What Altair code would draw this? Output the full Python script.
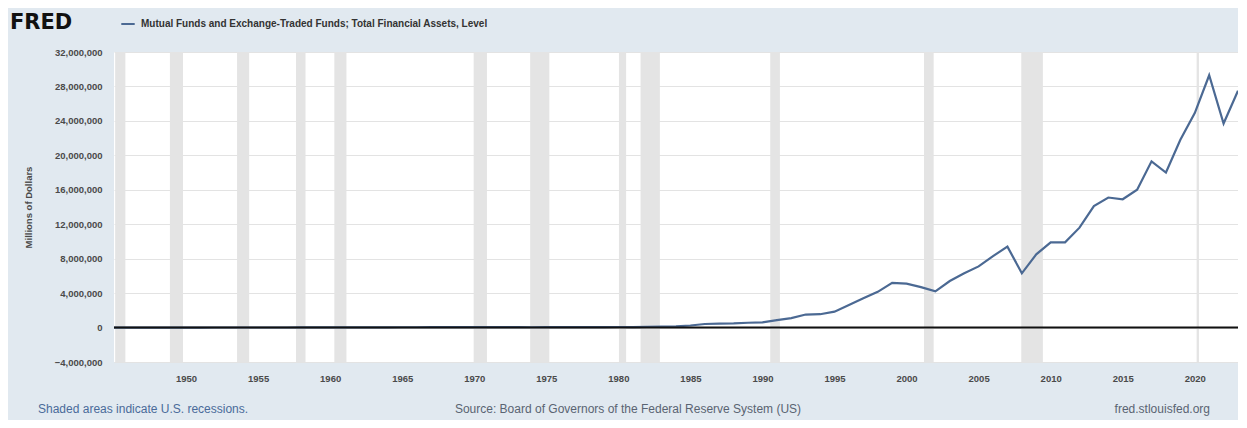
import altair as alt
import pandas as pd

# ---------------- data ----------------
series_name = "Mutual Funds and Exchange-Traded Funds; Total Financial Assets, Level"
years = list(range(1945, 2024))
assets = [  # millions of dollars
    1300, 1300, 1400, 1500, 1900, 2500, 3000, 3900, 4100, 6100,
    7800, 9000, 8700, 13200, 15800, 17000, 22800, 21300, 25200, 29100,
    35200, 34800, 44700, 52700, 48300, 47600, 55000, 59800, 46500, 34100,
    43000, 47600, 45000, 45000, 49000, 62000, 60000, 77000, 113000, 137000,
    240000, 414000, 460000, 479000, 556000, 608000, 853000, 1100000, 1510000, 1550000,
    1850000, 2620000, 3400000, 4150000, 5200000, 5100000, 4700000, 4200000, 5400000, 6300000,
    7100000, 8300000, 9400000, 6300000, 8500000, 9900000, 9900000, 11600000, 14100000, 15100000,
    14900000, 16000000, 19300000, 18000000, 21800000, 24900000, 29300000, 23700000, 27500000,
]
rec_start = [1945.08, 1948.88, 1953.54, 1957.63, 1960.29, 1969.96, 1973.88,
             1980.04, 1981.54, 1990.54, 2001.21, 2007.96, 2020.13]
rec_end = [1945.79, 1949.79, 1954.38, 1958.29, 1961.13, 1970.88, 1975.21,
           1980.54, 1982.88, 1991.21, 2001.88, 2009.46, 2020.29]
y_ticks = [-4000000, 0, 4000000, 8000000, 12000000, 16000000,
           20000000, 24000000, 28000000, 32000000]
x_ticks = list(range(1950, 2021, 5))
y_title = "Millions of Dollars"
logo_text = ["FRED"]
footer_left = ["Shaded areas indicate U.S. recessions."]
footer_mid = ["Source: Board of Governors of the Federal Reserve System (US)"]
footer_right = ["fred.stlouisfed.org"]

df = pd.DataFrame({"year": years, "value": assets, "series": [series_name] * len(years)})
rec = pd.DataFrame({"start": rec_start, "end": rec_end})
zero = pd.DataFrame({"z": [0]})

W, H = 1124, 310
LINE_COLOR = "#4b6993"
FONT = "Liberation Sans"

xscale = alt.Scale(domain=[1945, 2023], nice=False, zero=False)
yscale = alt.Scale(domain=[-4000000, 32000000], nice=False, zero=False)

x_axis = alt.Axis(
    values=x_ticks, format="d", title=None, grid=False, ticks=False, tickSize=0,
    domain=False, labelFontSize=9.5, labelColor="#4a4a4a", labelFont=FONT,
    labelPadding=11, labelFontWeight="bold",
)
y_axis = alt.Axis(
    values=y_ticks, format=",d", title=y_title, grid=True, gridColor="#e3e3e3",
    gridWidth=1, ticks=False, tickSize=0, domain=False, labelFontSize=9.5,
    labelColor="#4a4a4a", labelFont=FONT, labelPadding=12, labelFontWeight="bold",
    titleFont=FONT, titleFontSize=9.5, titleColor="#4a4a4a", titleFontWeight="bold",
    titleX=-86, titleY=155, titleAngle=-90, titleAlign="center", titleBaseline="middle",
)

bars = alt.Chart(rec).mark_rect(color="#e4e4e4").encode(
    x=alt.X("start:Q", scale=xscale, axis=x_axis),
    x2="end:Q",
)

line = alt.Chart(df).mark_line(strokeWidth=2.2).encode(
    x=alt.X("year:Q", scale=xscale, axis=x_axis),
    y=alt.Y("value:Q", scale=yscale, axis=y_axis),
    color=alt.Color(
        "series:N",
        scale=alt.Scale(range=[LINE_COLOR]),
        legend=alt.Legend(
            orient="none", legendX=6, legendY=-36, title=None, symbolType="stroke",
            symbolStrokeWidth=2, symbolSize=180, labelFont=FONT, labelFontSize=10,
            labelFontWeight="bold", labelColor="#333333", labelOffset=5, padding=0,
            labelLimit=0,
        ),
    ),
)

zero_rule = alt.Chart(zero).mark_rule(color="#111111", strokeWidth=2).encode(
    y=alt.Y("z:Q", scale=yscale, axis=y_axis)
)

logo = alt.Chart(pd.DataFrame({"t": logo_text})).mark_text(
    font="DejaVu Sans", fontSize=21, fontWeight="bold", color="#111111",
    align="left", baseline="alphabetic",
).encode(x=alt.value(-104), y=alt.value(-23), text="t:N")

f_left = alt.Chart(pd.DataFrame({"t": footer_left})).mark_text(
    font=FONT, fontSize=12, color="#4a6b9a", align="left", baseline="middle"
).encode(x=alt.value(-76), y=alt.value(357), text="t:N")

f_mid = alt.Chart(pd.DataFrame({"t": footer_mid})).mark_text(
    font=FONT, fontSize=12, color="#5a6472", align="center", baseline="middle"
).encode(x=alt.value(514), y=alt.value(357), text="t:N")

f_right = alt.Chart(pd.DataFrame({"t": footer_right})).mark_text(
    font=FONT, fontSize=12, color="#5a6472", align="right", baseline="middle"
).encode(x=alt.value(1096), y=alt.value(357), text="t:N")

chart = (
    alt.layer(bars, line, zero_rule, logo, f_left, f_mid, f_right)
    .properties(
        width=W, height=H,
        autosize=alt.AutoSizeParams(type="none"),
        padding={"left": 106, "top": 44, "right": 0, "bottom": 58},
        background="#e1e9f0",
    )
    .configure_view(fill="white", stroke=None)
)

chart.save("out.html", embed_options={"renderer": "svg", "actions": False})
